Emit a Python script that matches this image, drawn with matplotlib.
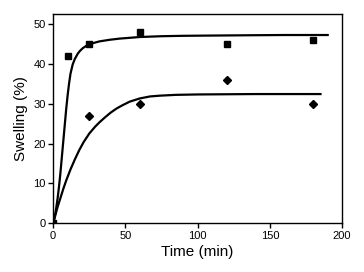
import matplotlib
matplotlib.use("Agg")
import matplotlib.pyplot as plt

plt.rcParams['font.family'] = ['Liberation Sans', 'DejaVu Sans']

# measured points
t_sq = [0, 10, 25, 60, 120, 180]
s_sq = [0, 42, 45, 48, 45, 46]
t_di = [25, 60, 120, 180]
s_di = [27, 30, 36, 30]

# fitted curves
t_fit_sq = [0, 1, 2, 3, 4, 5, 6, 7, 8, 9, 10, 11, 12, 13.5, 15, 17, 18.5, 20.5, 23,
            27, 32, 39, 46, 53, 60, 75, 90, 105, 122, 140, 160, 175, 190]
s_fit_sq = [0, 1.5, 3.5, 6, 9, 12.5, 16.5, 20.5, 24.5, 28.5, 32, 35, 37.5, 39.8, 41.2,
            42.5, 43.2, 43.9, 44.5, 45.1, 45.6, 46.0, 46.3, 46.5, 46.7, 46.9, 47.0,
            47.05, 47.1, 47.15, 47.2, 47.2, 47.2]
t_fit_di = [0, 1, 3, 5, 7, 9, 12, 15, 18, 21, 25, 29, 32, 36, 40, 44, 48, 53, 60,
            67, 74, 85, 100, 120, 140, 160, 185]
s_fit_di = [0, 1.3, 4.0, 6.3, 8.6, 10.7, 13.5, 16.0, 18.3, 20.3, 22.5, 24.2, 25.3,
            26.6, 27.8, 28.8, 29.6, 30.5, 31.3, 31.8, 32.0, 32.2, 32.3, 32.35, 32.4,
            32.4, 32.4]

fig = plt.figure(figsize=(3.64, 2.72), dpi=100)
ax = fig.add_axes([0.146, 0.179, 0.794, 0.770])

ax.plot(t_fit_sq, s_fit_sq, color='black', lw=1.6)
ax.plot(t_fit_di, s_fit_di, color='black', lw=1.6)
ax.plot(t_sq, s_sq, 's', color='black', ms=4.5)
ax.plot(t_di, s_di, 'D', color='black', ms=4.5)

ax.set_xlim(0, 200)
ax.set_ylim(0, 52.5)
ax.set_xticks([0, 50, 100, 150, 200])
ax.set_yticks([0, 10, 20, 30, 40, 50])
ax.tick_params(direction='out', length=3.5, width=1, labelsize=8, pad=2,
               top=False, right=False)
for sp in ax.spines.values():
    sp.set_linewidth(1)

ax.set_xlabel('Time (min)', fontsize=11, labelpad=3)
ax.set_ylabel('Swelling (%)', fontsize=11, labelpad=4)

fig.savefig('out.png', dpi=100)
